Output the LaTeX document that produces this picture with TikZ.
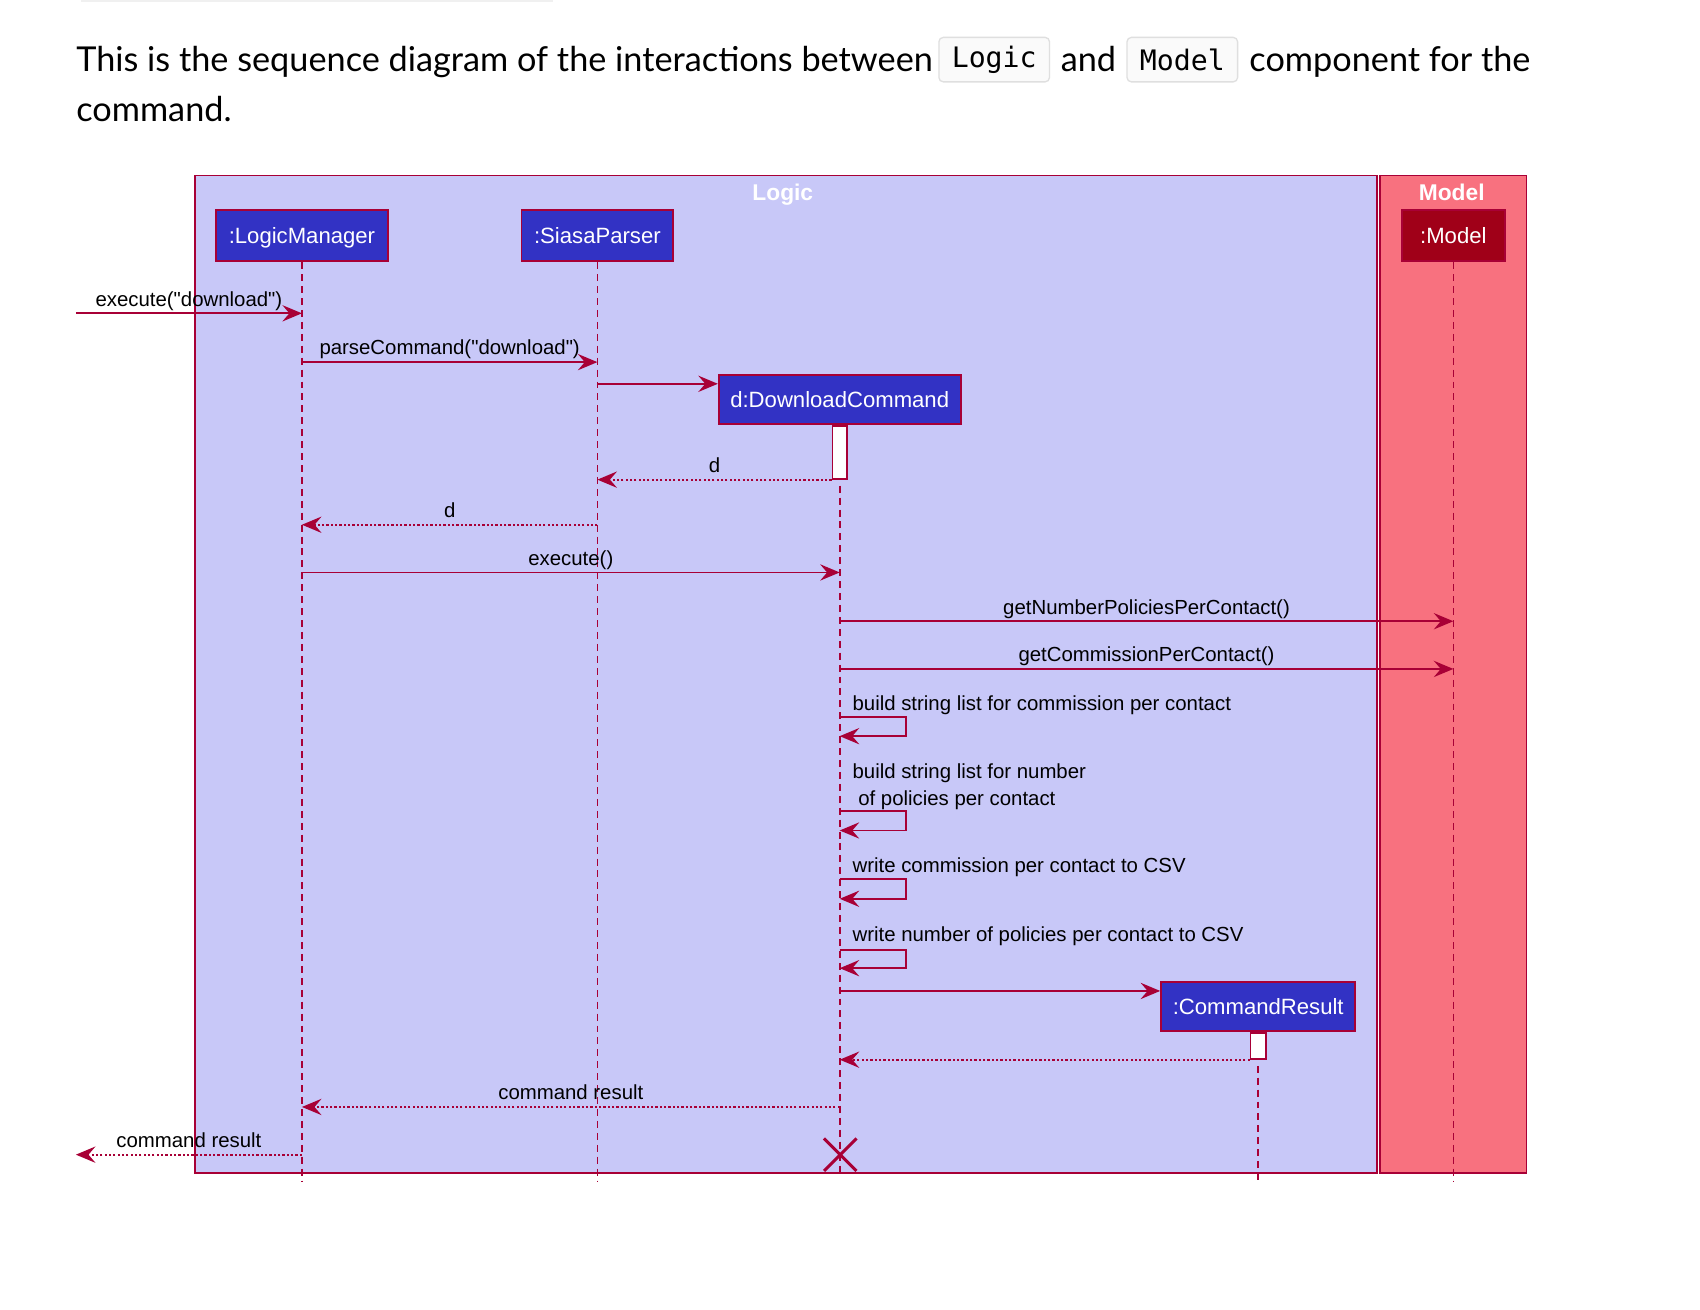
\documentclass[tikz,border=0pt]{standalone}
\usepackage{fontspec}
\setmainfont{Liberation Sans}
\newfontfamily\hdrfont{Lato}
\newfontfamily\codefont{DejaVu Sans Mono}
\usetikzlibrary{arrows.meta}
\definecolor{crim}{HTML}{A80036}
\definecolor{logicbg}{HTML}{C8C8F8}
\definecolor{modelbg}{HTML}{F8717F}
\definecolor{partblue}{HTML}{3232C4}
\definecolor{modelpart}{HTML}{A00018}
\newcommand\lblfont{\fontsize{9.4}{11}\selectfont}
\newcommand\partfont{\fontsize{10.2}{12}\selectfont}
\newcommand\hdrsize{\hdrfont\fontsize{15.8}{20}\selectfont}
\newcommand\qq{\textquotedbl}
\tikzset{
  lane/.style={draw=crim, line width=0.75pt},
  part/.style={draw=crim, line width=0.9pt, fill=partblue, text=white, font=\partfont, inner sep=0pt, minimum height=23.5pt, text height=7.3pt, text depth=0pt},
  life/.style={draw=crim, line width=0.75pt, dash pattern=on 3.2pt off 2.3pt},
  msg/.style={draw=crim, line width=0.85pt, -{Stealth[length=9pt,width=7.5pt,inset=3.2pt]}},
  ret/.style={msg, dash pattern=on 1pt off 1pt},
  lbl/.style={font=\lblfont, text=black, inner sep=0pt},
  actbar/.style={draw=crim, fill=white, line width=0.75pt, minimum width=6.8pt, inner sep=0pt},
  hdr/.style={font=\hdrsize, text=black, inner sep=0pt, anchor=base west},
  codebox/.style={draw=gray!25, fill=gray!4, rounded corners=2pt, line width=0.6pt, font=\codefont\fontsize{13}{15}\selectfont, inner sep=0pt, minimum width=51pt, minimum height=20.5pt},
  lanetitle/.style={font=\bfseries\fontsize{10.5}{12}\selectfont, text=white, inner sep=0pt, text height=7.6pt, text depth=0pt},
}
\begin{document}
\begin{tikzpicture}[x={(0.5pt,0pt)}, y={(0pt,-0.5pt)}]
\fill[white] (0,0) rectangle (1568,1208);
\useasboundingbox (0,0) rectangle (1568,1208);
\draw[gray!12, line width=1pt] (75,0.5) -- (510,0.5);

% header
\node[hdr] (h1) at (70,66) {This is the sequence diagram of the interactions between};
\node[codebox] (c1) at (917,55) {Logic};
\node[hdr] (h2) at (978,66) {and};
\node[codebox] (c2) at (1090.5,55) {Model};
\node[hdr] (h3) at (1152,66) {component for the};
\node[hdr] (h4) at (70,112) {command.};

% lanes
\filldraw[lane, fill=logicbg] (180,162) rectangle (1270,1082);
\filldraw[lane, fill=modelbg] (1273,162) rectangle (1408,1082);
\node[lanetitle] (tl) at (722,177) {Logic};
\node[lanetitle] (tm) at (1339,177) {Model};

% participants
\node[part, minimum width=79.5pt] (lm) at (278.5,217.5) {:LogicManager};
\node[part, minimum width=70pt] (sp) at (551,217.5) {:SiasaParser};
\node[part, minimum width=47.5pt, fill=modelpart] (md) at (1340.5,217.5) {:Model};
\node[part, minimum width=111.5pt, minimum height=22.5pt] (dc) at (774.5,368.5) {d:DownloadCommand};
\node[part, minimum width=89.5pt, minimum height=22.5pt] (cr) at (1160.5,928.5) {:CommandResult};

\coordinate (bot) at (0,1090);
\coordinate (dx) at (775,1065);
\coordinate (inpt) at (70,289);
\coordinate (outpt) at (70,1065);

% lifelines
\draw[life] (lm.south) -- (lm.south |- bot);
\draw[life] (sp.south) -- (sp.south |- bot);
\draw[life] (md.south) -- (md.south |- bot);
\draw[life] (dc.south |- 0,448) -- (dc.south |- 0,1082);
\draw[life] (cr.south |- 0,983) -- (cr.south |- bot);

% activation bars
\node[actbar, minimum height=24.5pt, anchor=north] (dca) at (dc.south) {};
\node[actbar, minimum height=12pt, anchor=north, minimum width=7pt] (cra) at (cr.south) {};

% messages
\draw[msg] (inpt) -- node[lbl, anchor=base, yshift=3.3pt] {execute(\qq download\qq)} (lm.south |- inpt);
\draw[msg] (lm.south |- 0,334) -- node[lbl, anchor=base, yshift=3.3pt] {parseCommand(\qq download\qq)} (sp.south |- 0,334);
\draw[msg] (sp.south |- 0,354) -- (dc.west |- 0,354);
\draw[ret] (dca.south west) -- node[lbl, anchor=base, yshift=3.3pt] {d} (sp.south |- dca.south west);
\draw[ret] (sp.south |- 0,484) -- node[lbl, anchor=base, yshift=3.3pt] {d} (lm.south |- 0,484);
\draw[msg] (lm.south |- 0,528) -- node[lbl, anchor=base, yshift=3.3pt] {execute()} (dc.south |- 0,528);
\draw[msg] (dc.south |- 0,573) -- node[lbl, anchor=base, yshift=3.3pt] {getNumberPoliciesPerContact()} (md.south |- 0,573);
\draw[msg] (dc.south |- 0,617) -- node[lbl, anchor=base, yshift=3.3pt] {getCommissionPerContact()} (md.south |- 0,617);

% self messages
\node[lbl, anchor=base west] (s1) at (786,655) {build string list for commission per contact};
\draw[msg] (dc.south |- 0,661) -- ++(61,0) -- ++(0,18) -- (dc.south |- 0,679);
\node[lbl, anchor=base west] (s2a) at (786,718) {build string list for number};
\node[lbl, anchor=base west] (s2b) at (786,743) {\ of policies per contact};
\draw[msg] (dc.south |- 0,748) -- ++(61,0) -- ++(0,18) -- (dc.south |- 0,766);
\node[lbl, anchor=base west] (s3) at (786,805) {write commission per contact to CSV};
\draw[msg] (dc.south |- 0,811) -- ++(61,0) -- ++(0,18) -- (dc.south |- 0,829);
\node[lbl, anchor=base west] (s4) at (786,868) {write number of policies per contact to CSV};
\draw[msg] (dc.south |- 0,876) -- ++(61,0) -- ++(0,17) -- (dc.south |- 0,893);

\draw[msg] (dc.south |- 0,914) -- (cr.west |- 0,914);
\draw[ret] (cra.south west) -- (dc.south |- cra.south west);
\draw[ret] (dc.south |- 0,1021) -- node[lbl, anchor=base, yshift=3.3pt] {command result} (lm.south |- 0,1021);
\draw[ret] (lm.south |- outpt) -- node[lbl, anchor=base, yshift=3.3pt] {command result} (outpt);

% destroy
\draw[crim, line width=1.4pt] (dx) ++(-15,-15) -- ++(30,30) (dx) ++(-15,15) -- ++(30,-30);
\end{tikzpicture}
\end{document}
